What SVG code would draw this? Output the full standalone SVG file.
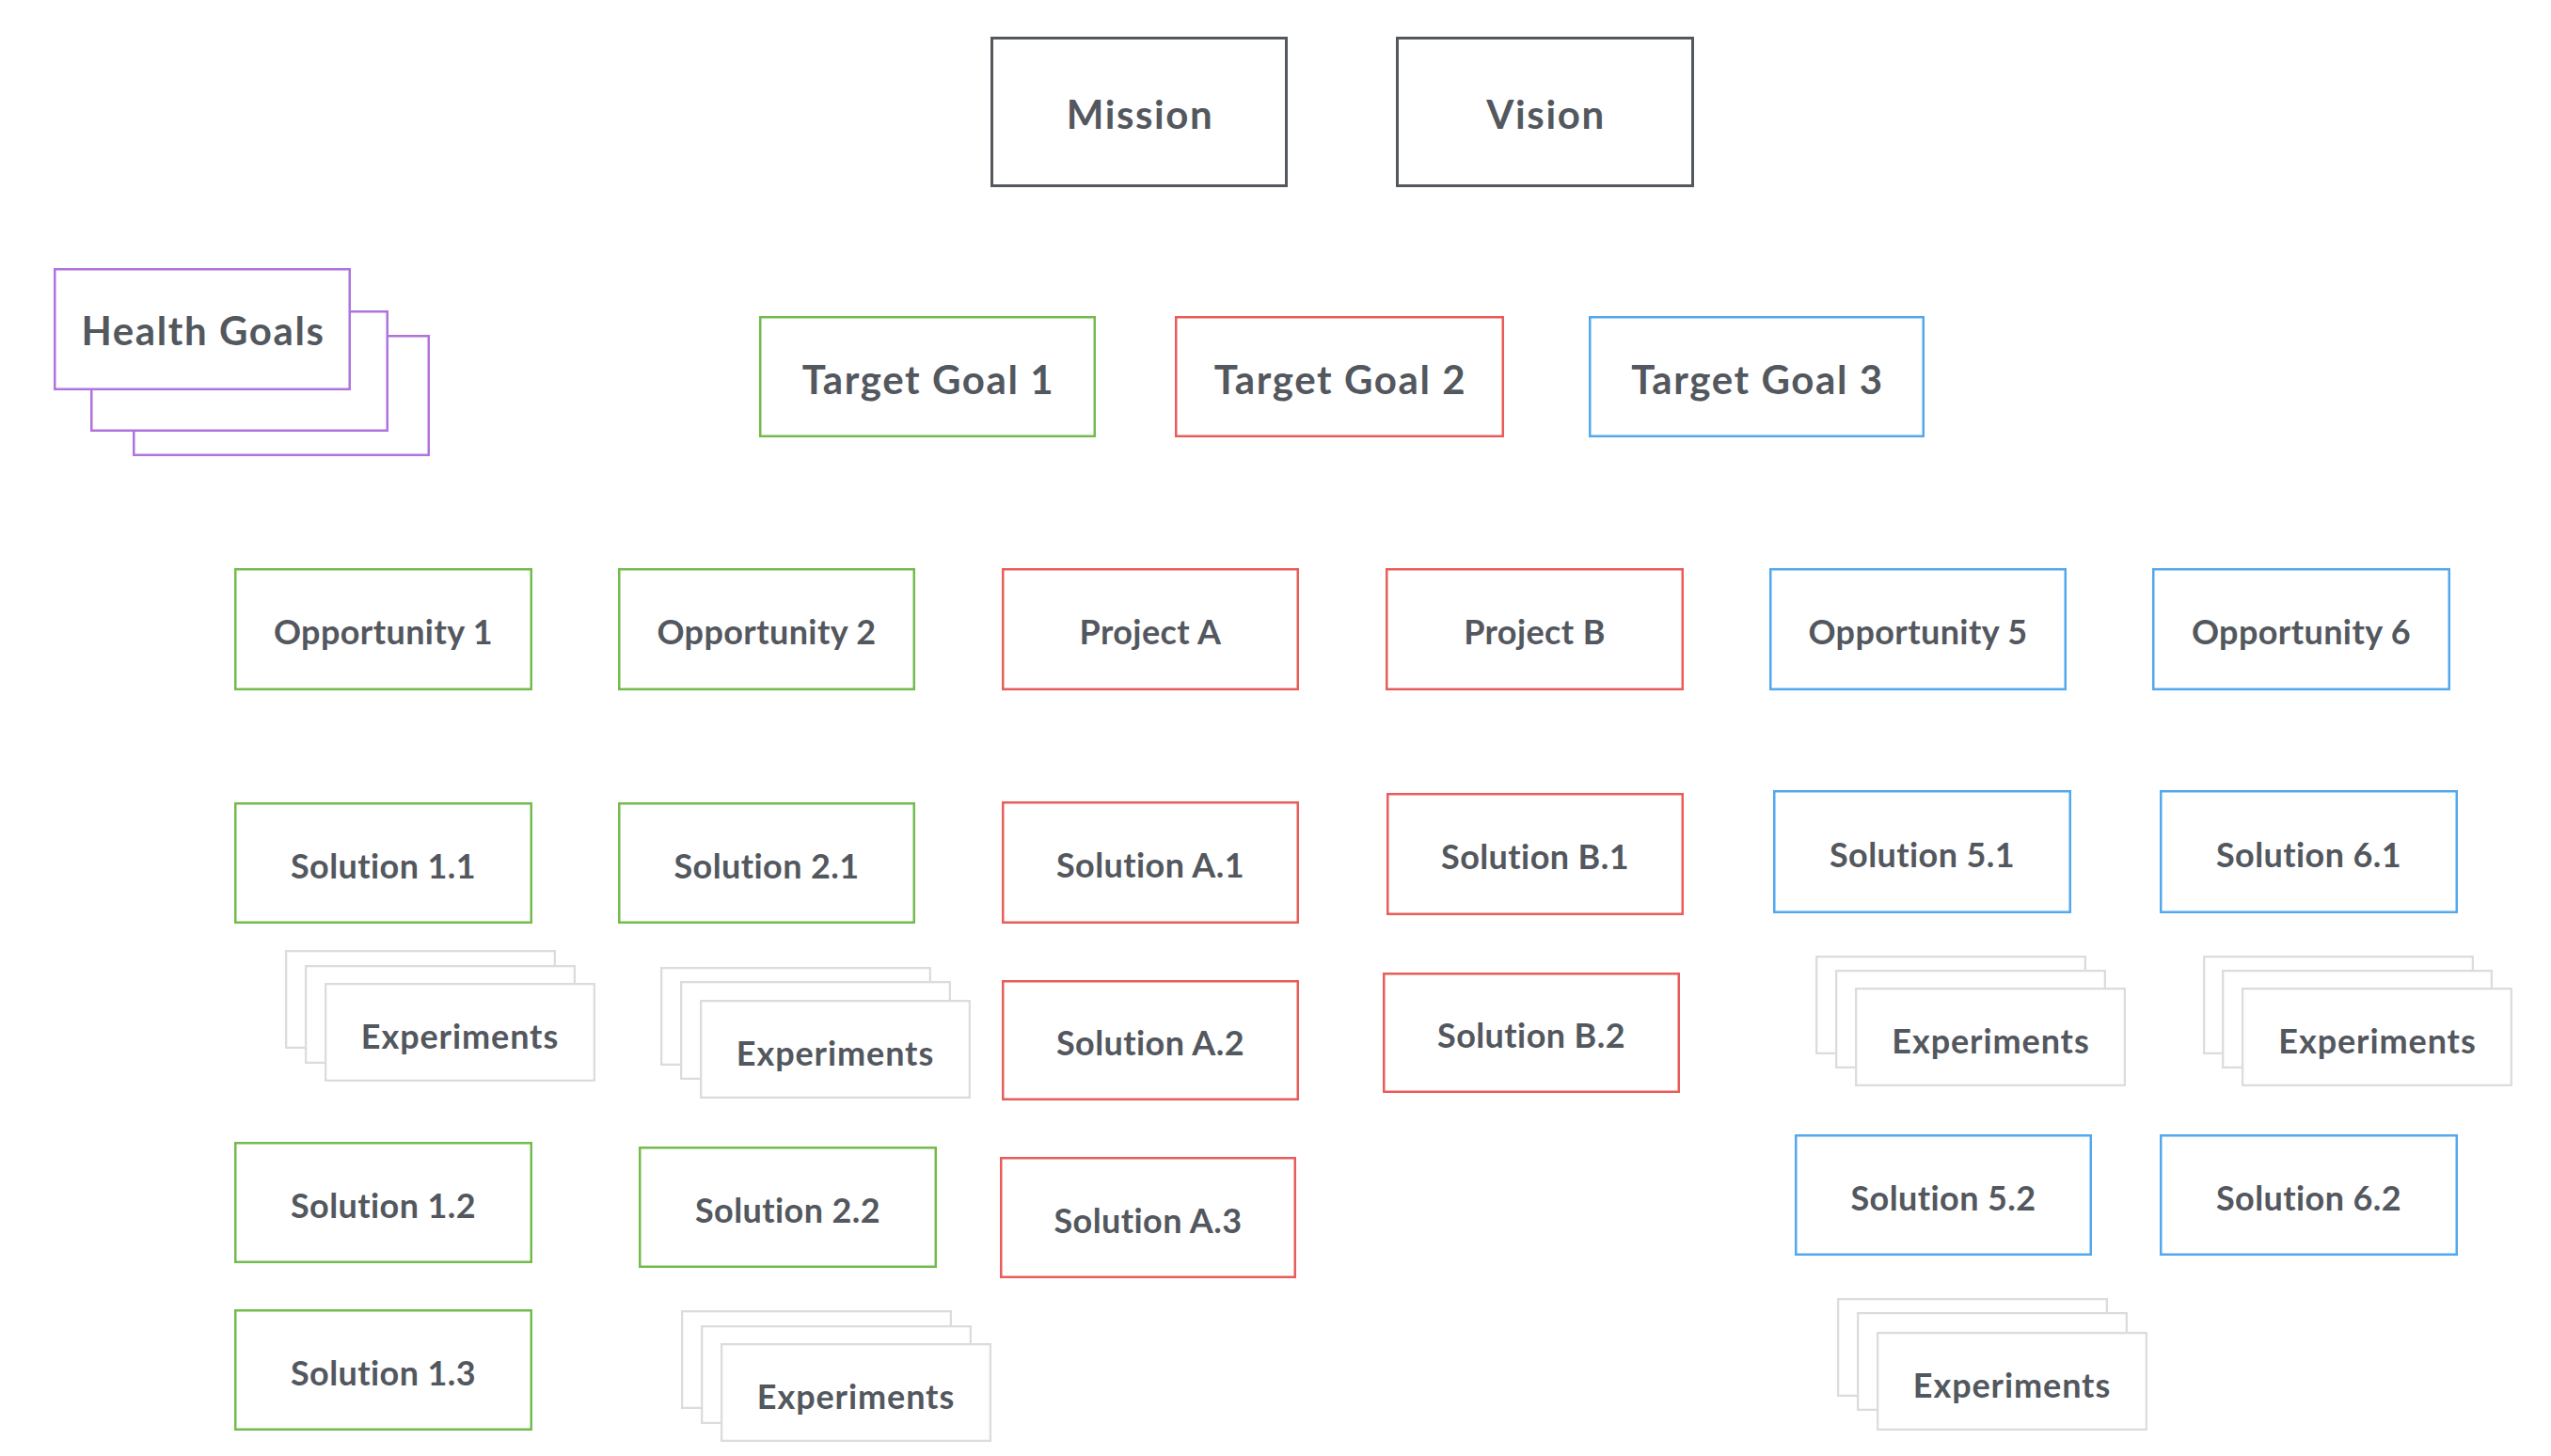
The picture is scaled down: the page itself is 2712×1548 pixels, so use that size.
<svg xmlns="http://www.w3.org/2000/svg" width="2712" height="1548" viewBox="0 0 2712 1548">
<style>
rect{fill:#fff;stroke-width:2.5}
.k{stroke:#53575e;stroke-width:3}
.g{stroke:#72bb4c}
.r{stroke:#e85c5a}
.b{stroke:#52a8ee}
.p{stroke:#b073dd}
.x{stroke:#dcdcdc;stroke-width:2.3}
text{font-family:Lato,"Open Sans","Liberation Sans",sans-serif;font-weight:700;fill:#53575e;text-anchor:middle}
.L{font-size:42px;letter-spacing:1.6px}
.S{font-size:36px;letter-spacing:0.4px}
.E{font-size:36px;letter-spacing:0.9px}
</style>
<rect x="0" y="0" width="2712" height="1548" style="stroke:none"/>
<g id="connectors"/>
<g id="mission"><rect class="k" x="1054.5" y="40.5" width="313" height="157"/><text class="L" x="1212" y="137">Mission</text></g>
<g id="vision"><rect class="k" x="1485.5" y="40.5" width="314" height="157"/><text class="L" x="1643.5" y="137">Vision</text></g>
<g id="health-goals">
<rect class="p" x="142.25" y="357.25" width="313.5" height="126.5"/>
<rect class="p" x="97.25" y="331.25" width="314.5" height="126.5"/>
<rect class="p" x="58.25" y="286.25" width="313.5" height="127.5"/>
<text class="L" x="216" y="367">Health Goals</text></g>
<g id="target-goal-1"><rect class="g" x="808.25" y="337.25" width="355.5" height="126.5"/><text class="L" x="987" y="419">Target Goal 1</text></g>
<g id="target-goal-2"><rect class="r" x="1250.25" y="337.25" width="347.5" height="126.5"/><text class="L" x="1425" y="419">Target Goal 2</text></g>
<g id="target-goal-3"><rect class="b" x="1690.25" y="337.25" width="354.5" height="126.5"/><text class="L" x="1868.5" y="419">Target Goal 3</text></g>
<g id="opportunity-1"><rect class="g" x="250.25" y="605.25" width="314.5" height="127.5"/><text class="S" x="407.5" y="685">Opportunity 1</text></g>
<g id="opportunity-2"><rect class="g" x="658.25" y="605.25" width="313.5" height="127.5"/><text class="S" x="815" y="685">Opportunity 2</text></g>
<g id="project-a"><rect class="r" x="1066.25" y="605.25" width="313.5" height="127.5"/><text class="S" x="1223" y="685">Project A</text></g>
<g id="project-b"><rect class="r" x="1474.25" y="605.25" width="314.5" height="127.5"/><text class="S" x="1631.5" y="685">Project B</text></g>
<g id="opportunity-5"><rect class="b" x="1882.25" y="605.25" width="313.5" height="127.5"/><text class="S" x="2039" y="685">Opportunity 5</text></g>
<g id="opportunity-6"><rect class="b" x="2289.25" y="605.25" width="314.5" height="127.5"/><text class="S" x="2446.5" y="685">Opportunity 6</text></g>
<g id="solution-1-1"><rect class="g" x="250.25" y="854.25" width="314.5" height="126.5"/><text class="S" x="407.5" y="933.5">Solution 1.1</text></g>
<g id="solution-2-1"><rect class="g" x="658.25" y="854.25" width="313.5" height="126.5"/><text class="S" x="815" y="933.5">Solution 2.1</text></g>
<g id="solution-a-1"><rect class="r" x="1066.25" y="853.25" width="313.5" height="127.5"/><text class="S" x="1223" y="933">Solution A.1</text></g>
<g id="solution-b-1"><rect class="r" x="1475.25" y="844.25" width="313.5" height="127.5"/><text class="S" x="1632" y="924">Solution B.1</text></g>
<g id="solution-5-1"><rect class="b" x="1886.25" y="841.25" width="314.5" height="128.5"/><text class="S" x="2043.5" y="921.5">Solution 5.1</text></g>
<g id="solution-6-1"><rect class="b" x="2297.25" y="841.25" width="314.5" height="128.5"/><text class="S" x="2454.5" y="921.5">Solution 6.1</text></g>
<g id="experiments-1-1">
<rect class="x" x="304.15" y="1011.15" width="285.7" height="102.7"/>
<rect class="x" x="325.15" y="1027.15" width="285.7" height="102.7"/>
<rect class="x" x="346.15" y="1046.15" width="285.7" height="102.7"/>
<text class="E" x="489" y="1114.5">Experiments</text></g>
<g id="experiments-2-1">
<rect class="x" x="703.15" y="1029.15" width="285.7" height="102.7"/>
<rect class="x" x="724.15" y="1044.15" width="285.7" height="102.7"/>
<rect class="x" x="745.15" y="1064.15" width="285.7" height="102.7"/>
<text class="E" x="888" y="1132.5">Experiments</text></g>
<g id="solution-a-2"><rect class="r" x="1066.25" y="1043.25" width="313.5" height="125.5"/><text class="S" x="1223" y="1122">Solution A.2</text></g>
<g id="solution-b-2"><rect class="r" x="1471.25" y="1035.25" width="313.5" height="125.5"/><text class="S" x="1628" y="1114">Solution B.2</text></g>
<g id="experiments-5-1">
<rect class="x" x="1931.15" y="1017.15" width="285.7" height="102.7"/>
<rect class="x" x="1952.15" y="1032.15" width="285.7" height="102.7"/>
<rect class="x" x="1973.15" y="1051.15" width="285.7" height="102.7"/>
<text class="E" x="2116.5" y="1119.5">Experiments</text></g>
<g id="experiments-6-1">
<rect class="x" x="2343.15" y="1017.15" width="285.7" height="102.7"/>
<rect class="x" x="2363.15" y="1032.15" width="285.7" height="102.7"/>
<rect class="x" x="2384.15" y="1051.15" width="285.7" height="102.7"/>
<text class="E" x="2527.5" y="1119.5">Experiments</text></g>
<g id="solution-1-2"><rect class="g" x="250.25" y="1215.25" width="314.5" height="126.5"/><text class="S" x="407.5" y="1294.5">Solution 1.2</text></g>
<g id="solution-2-2"><rect class="g" x="680.25" y="1220.25" width="314.5" height="126.5"/><text class="S" x="837.5" y="1299.5">Solution 2.2</text></g>
<g id="solution-a-3"><rect class="r" x="1064.25" y="1231.25" width="312.5" height="126.5"/><text class="S" x="1220.5" y="1310.5">Solution A.3</text></g>
<g id="solution-5-2"><rect class="b" x="1909.25" y="1207.25" width="313.5" height="126.5"/><text class="S" x="2066" y="1286.5">Solution 5.2</text></g>
<g id="solution-6-2"><rect class="b" x="2297.25" y="1207.25" width="314.5" height="126.5"/><text class="S" x="2454.5" y="1286.5">Solution 6.2</text></g>
<g id="solution-1-3"><rect class="g" x="250.25" y="1393.25" width="314.5" height="126.5"/><text class="S" x="407.5" y="1472.5">Solution 1.3</text></g>
<g id="experiments-2-2">
<rect class="x" x="725.15" y="1394.15" width="285.7" height="102.7"/>
<rect class="x" x="746.15" y="1410.15" width="285.7" height="102.7"/>
<rect class="x" x="767.15" y="1429.15" width="285.7" height="102.7"/>
<text class="E" x="910" y="1497.5">Experiments</text></g>
<g id="experiments-5-2">
<rect class="x" x="1954.15" y="1381.15" width="285.7" height="102.7"/>
<rect class="x" x="1975.15" y="1396.15" width="285.7" height="102.7"/>
<rect class="x" x="1996.15" y="1417.15" width="285.7" height="102.7"/>
<text class="E" x="2139" y="1485.5">Experiments</text></g>
</svg>
